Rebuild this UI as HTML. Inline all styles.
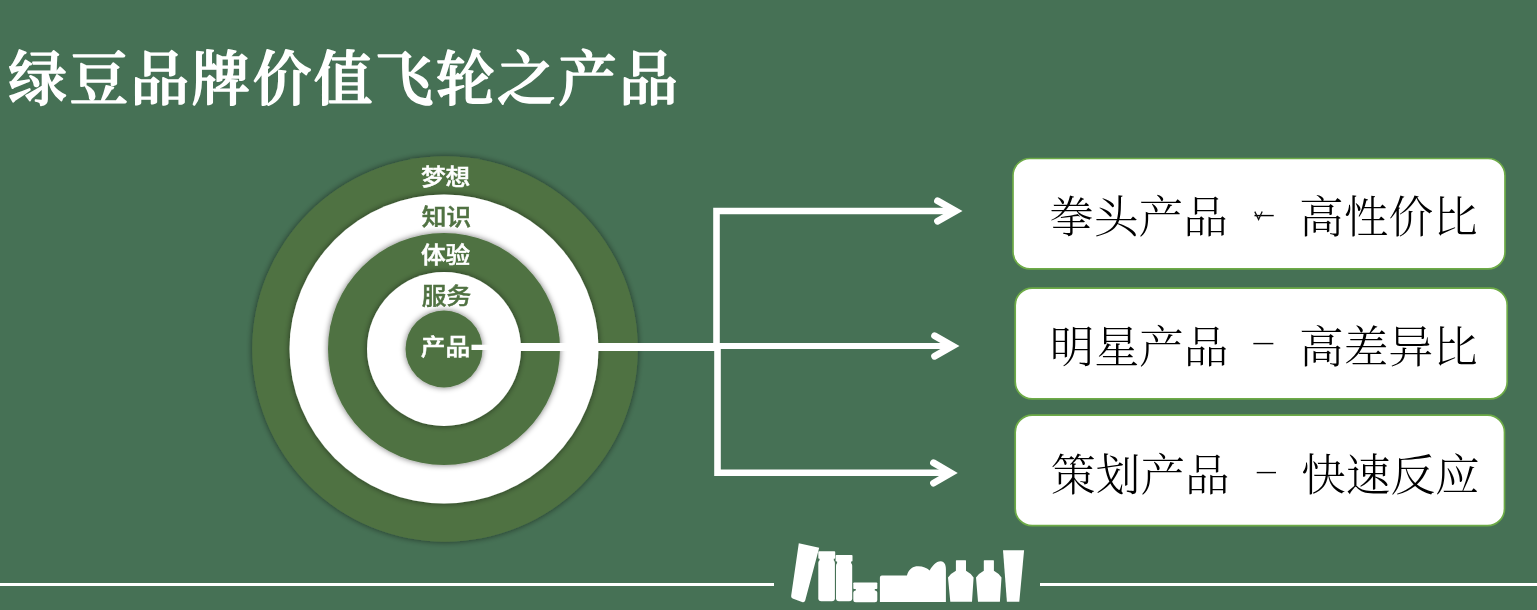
<!DOCTYPE html>
<html lang="zh-CN">
<head>
<meta charset="utf-8">
<title>绿豆品牌价值飞轮之产品</title>
<style>
html,body{margin:0;padding:0;background:#467155;}
body{width:1537px;height:610px;overflow:hidden;}
svg{display:block;}
.title{font-family:"Liberation Serif","Noto Serif CJK SC",serif;font-weight:500;font-size:58.6px;letter-spacing:2.5px;fill:#fff;stroke:#fff;stroke-width:1.7px;stroke-linejoin:round;}
.lab{font-family:"Liberation Sans","Noto Sans CJK SC",sans-serif;font-weight:500;font-size:24px;text-anchor:middle;stroke-width:.5px;}
.box{font-family:"Liberation Serif","Noto Serif CJK SC",serif;font-weight:300;font-size:44.7px;fill:#000;}
.dash{font-weight:400;}
</style>
</head>
<body>
<svg width="1537" height="610" viewBox="0 0 1537 610" style="opacity:0.9999">
<defs>
<filter id="sh" x="-10%" y="-10%" width="120%" height="120%">
<feGaussianBlur in="SourceAlpha" stdDeviation="3" result="b"/>
<feComponentTransfer in="b" result="b2"><feFuncA type="linear" slope="0.55"/></feComponentTransfer>
<feMerge><feMergeNode in="b2"/><feMergeNode in="SourceGraphic"/></feMerge>
</filter>
</defs>
<rect width="1537" height="610" fill="#467155"/>
<text class="title" x="8.3" y="99.8">绿豆品牌价值飞轮之产品</text>

<!-- flywheel -->
<g filter="url(#sh)"><circle cx="445" cy="349" r="192.8" fill="#507242"/></g>
<g filter="url(#sh)"><circle cx="444" cy="349" r="154.5" fill="#fff"/></g>
<g filter="url(#sh)"><circle cx="444" cy="349" r="116" fill="#507242"/></g>
<g filter="url(#sh)"><circle cx="444" cy="349" r="77" fill="#fff"/></g>
<g filter="url(#sh)"><circle cx="444" cy="349" r="38.5" fill="#507242"/></g>
<g class="lab">
<text transform="translate(445.6 185) scale(1.03 .93)" fill="#fff" stroke="#fff">梦想</text>
<text transform="translate(446.4 224.6) scale(1.03 .93)" fill="#507242" stroke="#507242">知识</text>
<text transform="translate(445.6 263.4) scale(1.03 .93)" fill="#fff" stroke="#fff">体验</text>
<text transform="translate(446.4 304.2) scale(1.03 .93)" fill="#507242" stroke="#507242">服务</text>
<text transform="translate(445.4 355.3) scale(1.03 .93)" fill="#fff" stroke="#fff">产品</text>
</g>

<!-- connector + arrows -->
<g fill="none" stroke="#fff" stroke-linecap="butt">
<rect x="471.5" y="344.7" width="30" height="5.3" fill="#fff" stroke="none"/><rect x="492" y="343" width="225" height="8" fill="#fff" stroke="none"/>
<path d="M716.5 350 V211 H954" stroke-width="6.6"/>
<path d="M717.5 343 V472.8 H950" stroke-width="6.6"/>
<path d="M716 346 H951.5" stroke-width="6"/>
</g>
<g fill="none" stroke="#fff" stroke-width="6.8" stroke-linecap="round" stroke-linejoin="miter">
<path d="M937.5 200.8 L955.6 211 L937.5 221.2"/>
<path d="M934.6 335.8 L952.6 346 L934.6 356.2"/>
<path d="M933.5 462.7 L951 472.9 L933.5 483.1"/>
</g>

<!-- boxes -->
<g fill="#fff" stroke="#6dab47" stroke-width="1.7">
<rect x="1013" y="158.5" width="492" height="110.3" rx="17"/>
<rect x="1015.2" y="288.2" width="492" height="110.6" rx="17"/>
<rect x="1015.2" y="415.2" width="489.3" height="110.5" rx="17"/>
</g>
<g class="box">
<text x="1049.2" y="233">拳头产品</text><text class="dash" transform="translate(1251.8 220.3) scale(1.66 .4)">-</text><text x="1299" y="233">高性价比</text>
<text x="1049.7" y="362.6">明星产品</text><text class="dash" transform="translate(1250.6 348.4) scale(1.72 .4)">-</text><text x="1299" y="362.6">高差异比</text>
<text x="1051" y="490.7">策划产品</text><text class="dash" transform="translate(1253.9 477.3) scale(1.66 .4)">-</text><text x="1301" y="490.7">快速反应</text>
</g>
<path d="M1254.8 211.6 L1258.6 219.4 L1262.2 211.6" fill="none" stroke="#111" stroke-width="1.3"/>

<!-- footer -->
<rect x="0" y="583" width="774" height="3" fill="#fff"/>
<rect x="1040" y="583" width="497" height="3" fill="#fff"/>
<g fill="#fff">
<path d="M798.8 543.2 L819.2 547.8 L805.2 600.6 Q804.4 602.9 802 602 L792.6 598.6 Q790.6 597.6 791.2 595.6 Z"/>
<rect x="818.3" y="551.2" width="16.9" height="7.5" rx="0.8"/><rect x="819.6" y="558" width="14.2" height="3"/><rect x="818.3" y="560" width="16.6" height="41.3" rx="3"/>
<rect x="835.6" y="555" width="16.9" height="6.6" rx="0.8"/><rect x="837.1" y="561" width="14" height="3"/><rect x="836" y="562.8" width="16.2" height="38.5" rx="3"/>
<rect x="853.3" y="582.4" width="24" height="6.7" rx="0.8"/><rect x="855.8" y="588.5" width="19" height="3"/><rect x="853.3" y="590.6" width="24" height="11.6" rx="2.5"/>
<path d="M879.9 577.5 Q879.9 575.5 881.9 575.5 L906.9 575.5 C909 568 914 566 918.3 566.2 C923 566.2 927 568 929.7 570.5 C932 566 936 561.2 940.7 561.2 C944.5 561.2 945.9 565 945.9 569 L945.9 602.1 L879.9 602.1 Z"/>
<path d="M956.4 560.2 Q955.9 560.2 955.9 560.8 L955.9 570.8 Q951 573.3 948 577.6 L950.3 601.7 L972 601.7 L973.6 577.6 Q970.8 573.3 966 570.8 L966 560.8 Q966 560.2 965.5 560.2 Z"/>
<path d="M984.3 560.2 Q983.8 560.2 983.8 560.8 L983.8 570.8 Q979 573.3 976 577.6 L978 601.7 L999.9 601.7 L1001.5 577.6 Q998.7 573.3 993.9 570.8 L993.9 560.8 Q993.9 560.2 993.4 560.2 Z"/>
<path d="M1003 550.2 L1024.1 550.2 L1019.3 601.8 L1006.9 601.8 Z"/>
</g>
</svg>
</body>
</html>
